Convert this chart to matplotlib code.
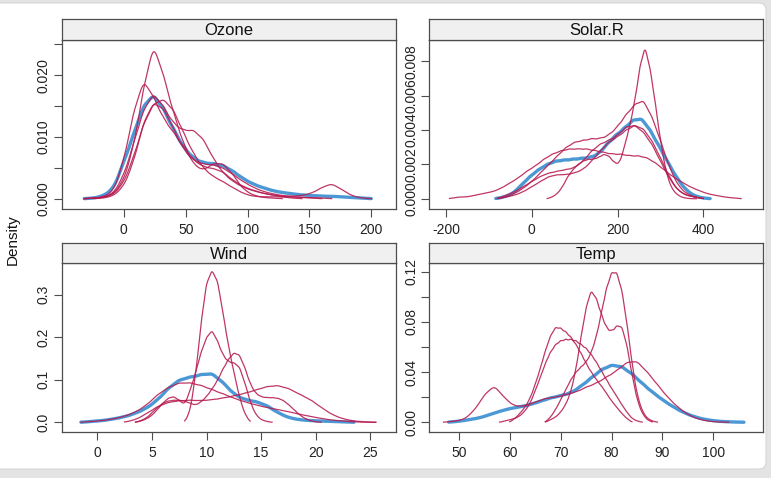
"""Density plots of observed (blue) and imputed (red) airquality variables."""
import numpy as np
import matplotlib
matplotlib.use("Agg")
import matplotlib.pyplot as plt
from matplotlib.patches import FancyBboxPatch
from matplotlib.transforms import IdentityTransform

plt.rcParams['font.family'] = ['Liberation Sans', 'DejaVu Sans']

# density values: (first x, x step, densities)
ozone_obs = (-32, 8, [0, 0.0001, 0.0005, 0.0017, 0.0060, 0.0105, 0.0152, 0.0170, 0.0146, 0.0113,
                      0.0084, 0.0066, 0.0058, 0.0057, 0.0054, 0.0045, 0.0033, 0.0024, 0.0018, 0.0013,
                      0.0010, 0.0008, 0.0006, 0.0005, 0.0004, 0.0004, 0.0003, 0.0002, 0.0001, 0])
ozone_imp = [
    (-32, 8, [0, 0.0001, 0.0002, 0.0008, 0.0030, 0.0085, 0.0180, 0.0255, 0.0200, 0.0140, 0.0090,
              0.0056, 0.0045, 0.0057, 0.0058, 0.0040, 0.0016, 0.0006, 0.0002, 0.0001, 0]),
    (-32, 8, [0, 0.0001, 0.0003, 0.0013, 0.0062, 0.0142, 0.0195, 0.0165, 0.0130, 0.0108, 0.0085,
              0.0063, 0.0052, 0.0049, 0.0044, 0.0030, 0.0020, 0.0014, 0.0009, 0.0006, 0.0004,
              0.0003, 0.0002, 0.0001, 0]),
    (-32, 8, [0, 0.0001, 0.0002, 0.0009, 0.0038, 0.0090, 0.0145, 0.0172, 0.0150, 0.0122, 0.0110,
              0.0112, 0.0098, 0.0066, 0.0042, 0.0028, 0.0019, 0.0013, 0.0009, 0.0006, 0.0003,
              0.0001, 0]),
    (-32, 8, [0, 0.0001, 0.0002, 0.0007, 0.0026, 0.0068, 0.0122, 0.0155, 0.0162, 0.0145, 0.0108,
              0.0074, 0.0050, 0.0036, 0.0028, 0.0018, 0.0009, 0.0004, 0.0003, 0.0003, 0.0003,
              0.0003, 0.0002, 0.0002, 0.0001, 0]),
    (-24, 8, [0, 0.0001, 0.0005, 0.0020, 0.0060, 0.0125, 0.0157, 0.0147, 0.0115, 0.0080, 0.0062,
              0.0056, 0.0055, 0.0050, 0.0040, 0.0028, 0.0019, 0.0012, 0.0008, 0.0005, 0.0004,
              0.0005, 0.0009, 0.0018, 0.0025, 0.0015, 0.0005, 0.0001, 0]),
]

solar_obs = (-84, 20, [0, 0.0001, 0.0003, 0.0008, 0.0013, 0.0017, 0.0020, 0.0022, 0.00225, 0.0023,
                       0.00235, 0.0024, 0.0026, 0.0032, 0.0037, 0.0041, 0.0046, 0.0047, 0.0040,
                       0.0031, 0.0022, 0.0013, 0.0006, 0.0002, 0.00005, 0])
solar_imp = [
    (36, 12, [0, 0.0001, 0.0003, 0.0007, 0.0013, 0.0017, 0.0020, 0.0022, 0.0023, 0.0023, 0.0024,
              0.0026, 0.0025, 0.0021, 0.0020, 0.0030, 0.0042, 0.0056, 0.0077, 0.0090, 0.0076,
              0.0056, 0.0034, 0.0017, 0.0007, 0.0003, 0.0001, 0.00003, 0, 0]),
    (-192, 20, [0, 0.0001, 0.0001, 0.0002, 0.0003, 0.0004, 0.0006, 0.0009, 0.0012, 0.0016, 0.0019,
                0.0023, 0.0026, 0.0028, 0.0029, 0.0029, 0.0029, 0.0028, 0.0027, 0.0026, 0.0026,
                0.0025, 0.0025, 0.0024, 0.0021, 0.0017, 0.0013, 0.0010, 0.0007, 0.0005, 0.0003,
                0.0002, 0.0001, 0.00005, 0]),
    (-80, 20, [0, 0.0001, 0.0003, 0.0006, 0.0010, 0.0015, 0.0020, 0.0025, 0.0030, 0.0033, 0.0034,
               0.0035, 0.0035, 0.0037, 0.0042, 0.0049, 0.0055, 0.0058, 0.0048, 0.0034, 0.0019,
               0.0008, 0.0003, 0.0001, 0]),
    (-80, 20, [0, 0.0002, 0.0004, 0.0007, 0.0010, 0.0013, 0.0015, 0.0016, 0.0017, 0.0018, 0.0022,
               0.0028, 0.0032, 0.0034, 0.0037, 0.0042, 0.0043, 0.0039, 0.0032, 0.0022, 0.0012,
               0.0005, 0.0002, 0.0001, 0]),
    (-80, 20, [0, 0.0001, 0.0002, 0.0004, 0.0007, 0.0010, 0.0013, 0.0014, 0.0014, 0.0015, 0.0017,
               0.0022, 0.0028, 0.0033, 0.0036, 0.0040, 0.0043, 0.0041, 0.0034, 0.0024, 0.0013,
               0.0005, 0.0002, 0.0001, 0]),
]

wind_obs = (-1.5, 1, [0, 0.002, 0.004, 0.008, 0.013, 0.021, 0.033, 0.052, 0.080, 0.100, 0.106,
                      0.112, 0.116, 0.094, 0.066, 0.053, 0.049, 0.040, 0.023, 0.011, 0.006, 0.004,
                      0.003, 0.002, 0.001, 0])
wind_imp = [
    (8.0, 0.5, [0, 0.025, 0.11, 0.235, 0.33, 0.36, 0.335, 0.26, 0.18, 0.12, 0.06, 0.02, 0]),
    (3.5, 0.5, [0, 0.003, 0.008, 0.016, 0.030, 0.045, 0.057, 0.061, 0.052, 0.040, 0.075, 0.115,
                0.165, 0.200, 0.218, 0.192, 0.158, 0.142, 0.140, 0.132, 0.095, 0.048, 0.018,
                0.006, 0.002, 0]),
    (3.5, 0.5, [0, 0.004, 0.010, 0.022, 0.035, 0.045, 0.050, 0.052, 0.052, 0.050, 0.045, 0.040,
                0.048, 0.060, 0.078, 0.098, 0.125, 0.148, 0.164, 0.160, 0.130, 0.090, 0.068,
                0.060, 0.058, 0.058, 0.057, 0.052, 0.042, 0.030, 0.018, 0.009, 0.004, 0.001, 0]),
    (-1.5, 1, [0, 0.002, 0.004, 0.008, 0.014, 0.024, 0.040, 0.065, 0.082, 0.093, 0.093, 0.087,
               0.077, 0.067, 0.057, 0.048, 0.041, 0.035, 0.030, 0.025, 0.019, 0.014, 0.009,
               0.005, 0.003, 0.001, 0.0003, 0]),
    (2.5, 1, [0, 0.006, 0.020, 0.037, 0.047, 0.051, 0.052, 0.051, 0.053, 0.057, 0.062, 0.068,
              0.076, 0.084, 0.087, 0.080, 0.066, 0.054, 0.035, 0.018, 0.008, 0.003, 0.001, 0]),
]

temp_obs = (48, 2, [0, 0.0008, 0.002, 0.0034, 0.006, 0.0087, 0.0109, 0.0122, 0.014, 0.0167,
                    0.0194, 0.0212, 0.0233, 0.0287, 0.0353, 0.042, 0.0458, 0.0445, 0.0387, 0.031,
                    0.024, 0.018, 0.0125, 0.008, 0.0047, 0.0025, 0.0012, 0.0005, 0.0002, 0])
temp_imp = [
    (47, 2, [0, 0.0008, 0.002, 0.009, 0.022, 0.030, 0.019, 0.0125, 0.013, 0.016, 0.019, 0.020,
             0.022, 0.024, 0.028, 0.031, 0.036, 0.041, 0.048, 0.049, 0.040, 0.030, 0.020, 0.012,
             0.006, 0.0025, 0.0008, 0.0002, 0]),
    (60, 1, [0, 0.003, 0.007, 0.012, 0.019, 0.030, 0.043, 0.057, 0.069, 0.076, 0.075, 0.072,
             0.068, 0.062, 0.055, 0.047, 0.040, 0.034, 0.029, 0.023, 0.017, 0.012, 0.007, 0.003, 0]),
    (58, 1, [0, 0.001, 0.002, 0.003, 0.005, 0.009, 0.015, 0.025, 0.036, 0.047, 0.056, 0.062,
             0.065, 0.066, 0.066, 0.065, 0.062, 0.059, 0.054, 0.048, 0.041, 0.034, 0.027, 0.021,
             0.014, 0.008, 0.003, 0.001, 0]),
    (67, 1, [0, 0.002, 0.004, 0.008, 0.014, 0.024, 0.042, 0.068, 0.092, 0.106, 0.099, 0.086,
             0.075, 0.072, 0.077, 0.077, 0.062, 0.038, 0.018, 0.007, 0.002, 0]),
    (67, 1, [0, 0.004, 0.010, 0.018, 0.026, 0.034, 0.040, 0.044, 0.048, 0.055, 0.068, 0.087,
             0.107, 0.120, 0.120, 0.106, 0.080, 0.047, 0.022, 0.009, 0.003, 0.001, 0]),
]

titles = ["Ozone", "Solar.R", "Wind", "Temp"]
xlims = [(-50, 220), (-239, 540), (-3.23, 27.35), (44.2, 109.8)]
ylims = [(-0.00167, 0.02577), (-0.0006, 0.00927), (-0.0235, 0.374), (-0.008, 0.1267)]
xticks = [[0, 50, 100, 150, 200], [-200, 0, 200, 400], [0, 5, 10, 15, 20, 25],
          [50, 60, 70, 80, 90, 100]]
yticks = [[0, 0.005, 0.010, 0.015, 0.020, 0.025], [0, 0.002, 0.004, 0.006, 0.008],
          [0, 0.1, 0.2, 0.3], [0, 0.02, 0.04, 0.06, 0.08, 0.10, 0.12]]
ylabels = [["0.000", "", "0.010", "", "0.020", ""],
           ["0.000", "0.002", "0.004", "0.006", "0.008"],
           ["0.0", "0.1", "0.2", "0.3"],
           ["0.00", "", "0.04", "", "0.08", "", "0.12"]]
observed = [ozone_obs, solar_obs, wind_obs, temp_obs]
imputed = [ozone_imp, solar_imp, wind_imp, temp_imp]

OBS_COL, IMP_COL = "#006CC2", "#B61A51"
EDGE = "#4d4d4d"
W, H = 771, 478


def curve(start, step, dens):
    # smooth line through the read density values (gaussian kernel, 0.55 step wide)
    v = start + step * np.arange(len(dens))
    d = np.asarray(dens, float)
    b = 0.55 * step
    xs = np.linspace(v[0], v[-1], 400)
    k = np.exp(-0.5 * ((xs[:, None] - v[None, :]) / b) ** 2) / (b * np.sqrt(2 * np.pi))
    return xs, k @ (d * step)


def rect(l, t, r, b):
    return [l / W, 1 - b / H, (r - l) / W, (b - t) / H]


fig = plt.figure(figsize=(W / 100, H / 100), dpi=100)
fig.patch.set_facecolor("#e4e4e4")
card = FancyBboxPatch((-10, 9), 776, 466, boxstyle="round,pad=0,rounding_size=7",
                      transform=IdentityTransform(), facecolor="white",
                      edgecolor="#d6d6d6", lw=0.8, zorder=-10)
fig.patches.append(card)

lefts = [62, 429.3, 62, 429.3]
rights = [396, 763.3, 396, 763.3]
tops = [19, 19, 243.3, 243.3]
strip_h = [20.7, 20.7, 20.0, 20.0]
bottoms = [209, 209, 432.3, 432.3]

for i in range(4):
    l, r, t, b = lefts[i], rights[i], tops[i], bottoms[i]
    ax = fig.add_axes(rect(l, t + strip_h[i], r, b))
    ax.set_facecolor("none")
    xs, ys = curve(*observed[i])
    ax.plot(xs, ys, color=OBS_COL, alpha=0.7, lw=2.4, solid_capstyle="round", zorder=2)
    for imp in imputed[i]:
        xs, ys = curve(*imp)
        ax.plot(xs, ys, color=IMP_COL, alpha=0.88, lw=0.9, zorder=3)
    ax.set_xlim(*xlims[i])
    ax.set_ylim(*ylims[i])
    ax.set_xticks(xticks[i])
    ax.set_xticklabels([str(x) for x in xticks[i]])
    ax.set_yticks(yticks[i])
    ax.set_yticklabels(ylabels[i], rotation=90, va="center")
    ax.tick_params(axis="both", direction="out", length=5.6, width=0.8, color=EDGE,
                   labelsize=10, labelcolor="#222222")
    ax.tick_params(axis="x", pad=4.5)
    ax.tick_params(axis="y", pad=2.5)
    for s in ax.spines.values():
        s.set_color(EDGE)
        s.set_linewidth(0.9)

    st = fig.add_axes(rect(l, t, r, t + strip_h[i]))
    st.set_facecolor("#f0f0f0")
    st.set_xticks([])
    st.set_yticks([])
    for s in st.spines.values():
        s.set_color(EDGE)
        s.set_linewidth(0.9)
    st.text(0.5, 0.45, titles[i], ha="center", va="center", fontsize=12,
            color="#111111", transform=st.transAxes)

fig.text(13 / W, 1 - 240 / H, "Density", rotation=90, ha="center", va="center",
         fontsize=11, color="#111111")

fig.savefig("out.png", dpi=100, facecolor=fig.get_facecolor())
